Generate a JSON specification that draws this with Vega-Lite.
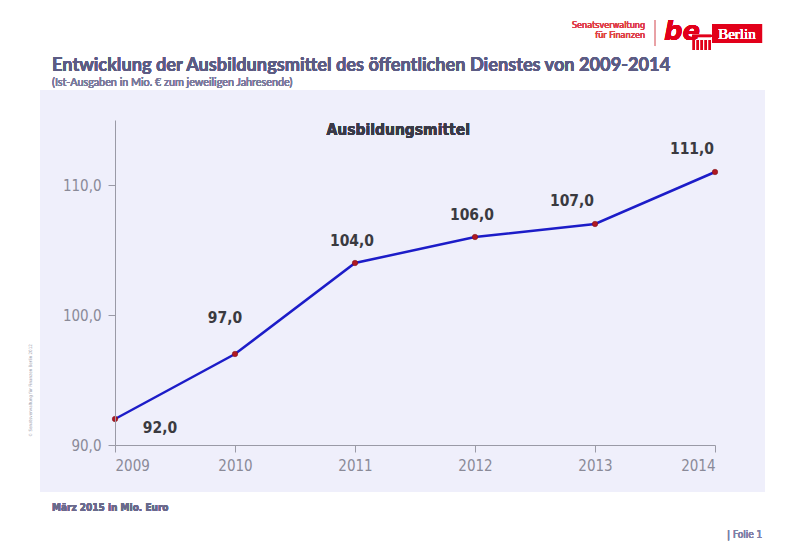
{
  "$schema": "https://vega.github.io/schema/vega-lite/v6.json",
  "width": 600,
  "height": 325,
  "autosize": {"type": "none"},
  "padding": {"left": 115, "top": 120, "right": 85, "bottom": 113},
  "background": "white",
  "config": {
    "locale": {"number": {"decimal": ",", "thousands": ".", "grouping": [3], "currency": ["", " €"]}},
    "view": {"stroke": null},
    "font": "Liberation Sans Narrow, DejaVu Sans Condensed, sans-serif"
  },
  "data": {"values": [
    {"year": 2009, "value": 92.0},
    {"year": 2010, "value": 97.0},
    {"year": 2011, "value": 104.0},
    {"year": 2012, "value": 106.0},
    {"year": 2013, "value": 107.0},
    {"year": 2014, "value": 111.0}
  ]},
  "layer": [
    {
      "mark": {"type": "rect", "color": "#efeffb", "clip": false},
      "encoding": {
        "x": {"datum": 2008.375, "type": "quantitative"},
        "x2": {"datum": 2014.417},
        "y": {"datum": 117.31, "type": "quantitative"},
        "y2": {"datum": 86.38}
      }
    },
    {
      "mark": {"type": "line", "color": "#1c1cc8", "strokeWidth": 2.5},
      "encoding": {
        "x": {
          "field": "year", "type": "quantitative",
          "scale": {"domain": [2009, 2014], "nice": false, "zero": false},
          "axis": {
            "values": [2009, 2010, 2011, 2012, 2013, 2014], "format": "d", "title": null, "zindex": 1,
            "grid": false, "domainColor": "#9a9aa6", "tickColor": "#9a9aa6", "tickSize": 7,
            "labelFontSize": 15, "labelColor": "#8a8a98", "labelPadding": 6,
            "labelFont": "Liberation Sans Narrow, DejaVu Sans Condensed, sans-serif"
          }
        },
        "y": {
          "field": "value", "type": "quantitative",
          "scale": {"domain": [90, 115], "nice": false, "zero": false},
          "axis": {
            "values": [90, 100, 110], "format": ".1f", "zindex": 1,
            "title": "© Senatsverwaltung für Finanzen Berlin 2012",
            "titleFontSize": 4.5, "titleColor": "#9a9aaa", "titleFontWeight": "normal",
            "titleX": -85, "titleY": 270, "titleAngle": -90, "titleAlign": "center", "titleBaseline": "middle",
            "grid": false, "domainColor": "#9a9aa6", "tickColor": "#9a9aa6", "tickSize": 7,
            "labelFontSize": 15, "labelColor": "#8a8a98", "labelPadding": 7,
            "labelFont": "Liberation Sans Narrow, DejaVu Sans Condensed, sans-serif"
          }
        }
      }
    },
    {
      "mark": {"type": "point", "filled": true, "color": "#b01822", "size": 30, "stroke": "#7a1016", "strokeWidth": 0.5, "opacity": 1},
      "encoding": {
        "x": {"field": "year", "type": "quantitative"},
        "y": {"field": "value", "type": "quantitative"}
      }
    },
    {
      "transform": [{"filter": "datum.year == 2009"}],
      "mark": {"type": "text", "fontSize": 15.5, "fontWeight": "bold", "color": "#3a3a40", "dx": 45, "dy": 9},
      "encoding": {
        "x": {"field": "year", "type": "quantitative"},
        "y": {"field": "value", "type": "quantitative"},
        "text": {"field": "value", "type": "quantitative", "format": ".1f"}
      }
    },
    {
      "transform": [{"filter": "datum.year == 2010"}],
      "mark": {"type": "text", "fontSize": 15.5, "fontWeight": "bold", "color": "#3a3a40", "dx": -10, "dy": -36},
      "encoding": {
        "x": {"field": "year", "type": "quantitative"},
        "y": {"field": "value", "type": "quantitative"},
        "text": {"field": "value", "type": "quantitative", "format": ".1f"}
      }
    },
    {
      "transform": [{"filter": "datum.year == 2011 || datum.year == 2012"}],
      "mark": {"type": "text", "fontSize": 15.5, "fontWeight": "bold", "color": "#3a3a40", "dx": -3, "dy": -22},
      "encoding": {
        "x": {"field": "year", "type": "quantitative"},
        "y": {"field": "value", "type": "quantitative"},
        "text": {"field": "value", "type": "quantitative", "format": ".1f"}
      }
    },
    {
      "transform": [{"filter": "datum.year >= 2013"}],
      "mark": {"type": "text", "fontSize": 15.5, "fontWeight": "bold", "color": "#3a3a40", "dx": -23, "dy": -23},
      "encoding": {
        "x": {"field": "year", "type": "quantitative"},
        "y": {"field": "value", "type": "quantitative"},
        "text": {"field": "value", "type": "quantitative", "format": ".1f"}
      }
    },
    {
      "mark": {"type": "text", "fontSize": 15.5, "fontWeight": "bold", "color": "#3a3a48", "align": "center", "baseline": "middle"},
      "encoding": {
        "x": {"datum": 2011.36, "type": "quantitative"},
        "y": {"datum": 114.23, "type": "quantitative"},
        "text": {"value": "Ausbildungsmittel"}
      }
    },
    {
      "mark": {"type": "text", "fontSize": 18.2, "fontWeight": "bold", "color": "#5c5c84", "align": "left", "baseline": "alphabetic", "clip": false, "font": "Lato, sans-serif"},
      "encoding": {
        "x": {"datum": 2008.475, "type": "quantitative"},
        "y": {"datum": 118.77, "type": "quantitative"},
        "text": {"value": "Entwicklung der Ausbildungsmittel des öffentlichen Dienstes von 2009-2014"}
      }
    },
    {
      "mark": {"type": "text", "fontSize": 10.8, "fontWeight": "normal", "color": "#7a7a9c", "align": "left", "baseline": "alphabetic", "clip": false, "font": "Lato, sans-serif"},
      "encoding": {
        "x": {"datum": 2008.475, "type": "quantitative"},
        "y": {"datum": 117.62, "type": "quantitative"},
        "text": {"value": "(Ist-Ausgaben in Mio. € zum jeweiligen Jahresende)"}
      }
    },
    {
      "mark": {"type": "text", "fontSize": 10, "fontWeight": "bold", "color": "#6a6a8c", "align": "left", "baseline": "middle", "clip": false},
      "encoding": {
        "x": {"datum": 2008.475, "type": "quantitative"},
        "y": {"datum": 85.15, "type": "quantitative"},
        "text": {"value": "März 2015 in Mio. Euro"}
      }
    },
    {
      "mark": {"type": "text", "fontSize": 10, "color": "#8080a8", "align": "left", "baseline": "middle", "clip": false},
      "encoding": {
        "x": {"datum": 2014.1, "type": "quantitative"},
        "y": {"datum": 83.08, "type": "quantitative"},
        "text": {"value": "| Folie 1"}
      }
    },
    {
      "mark": {"type": "text", "fontSize": 9, "color": "#e0404a", "align": "right", "baseline": "middle", "clip": false},
      "encoding": {
        "x": {"datum": 2013.417, "type": "quantitative"},
        "y": {"datum": 122.31, "type": "quantitative"},
        "text": {"value": "Senatsverwaltung"}
      }
    },
    {
      "mark": {"type": "text", "fontSize": 9, "color": "#e0404a", "align": "right", "baseline": "middle", "clip": false},
      "encoding": {
        "x": {"datum": 2013.417, "type": "quantitative"},
        "y": {"datum": 121.54, "type": "quantitative"},
        "text": {"value": "für Finanzen"}
      }
    },
    {
      "mark": {"type": "rule", "color": "#e8a0a4", "strokeWidth": 1, "clip": false},
      "encoding": {
        "x": {"datum": 2013.5, "type": "quantitative"},
        "y": {"datum": 122.69, "type": "quantitative"},
        "y2": {"datum": 120.69}
      }
    },
    {
      "mark": {"type": "text", "fontSize": 26, "fontWeight": "bold", "fontStyle": "italic", "color": "#e2001a", "align": "left", "baseline": "alphabetic", "clip": false, "font": "DejaVu Sans, sans-serif"},
      "encoding": {
        "x": {"datum": 2013.575, "type": "quantitative"},
        "y": {"datum": 121.15, "type": "quantitative"},
        "text": {"value": "be"}
      }
    },
    {
      "mark": {"type": "rect", "color": "#e2001a", "clip": false},
      "encoding": {
        "x": {"datum": 2013.81, "type": "quantitative"},
        "x2": {"datum": 2013.97},
        "y": {"datum": 121.55, "type": "quantitative"},
        "y2": {"datum": 121.38}
      }
    },
    {
      "mark": {"type": "rule", "color": "#e2001a", "strokeWidth": 10, "strokeDash": [2, 2], "clip": false},
      "encoding": {
        "x": {"datum": 2013.815, "type": "quantitative"},
        "x2": {"datum": 2013.97},
        "y": {"datum": 120.77, "type": "quantitative"}
      }
    },
    {
      "mark": {"type": "rect", "color": "#e2001a", "clip": false},
      "encoding": {
        "x": {"datum": 2013.975, "type": "quantitative"},
        "x2": {"datum": 2014.392},
        "y": {"datum": 122.38, "type": "quantitative"},
        "y2": {"datum": 120.92}
      }
    },
    {
      "mark": {"type": "text", "fontSize": 15, "color": "white", "align": "center", "baseline": "middle", "clip": false, "font": "Liberation Serif, DejaVu Serif, serif"},
      "encoding": {
        "x": {"datum": 2014.183, "type": "quantitative"},
        "y": {"datum": 121.65, "type": "quantitative"},
        "text": {"value": "Berlin"}
      }
    }
  ]
}
